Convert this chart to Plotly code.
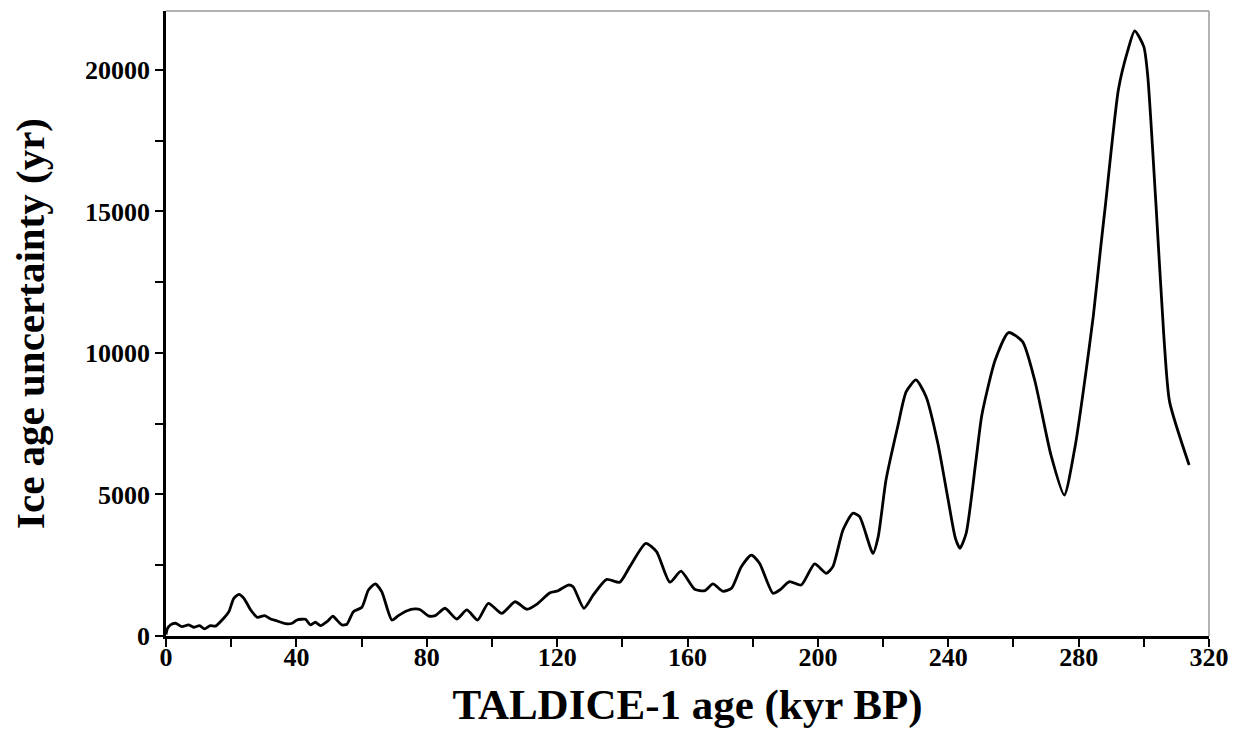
import plotly.graph_objects as go

# TALDICE-1 ice age uncertainty versus age
age_kyr = [
    0.0, 0.4, 1.5, 2.9, 4.9, 6.9, 8.5, 10.3, 11.8, 13.6, 15.2, 17.7, 19.3, 20.8,
    22.4, 23.9, 26.0, 28.0, 30.3, 32.1, 34.1, 36.7, 38.7, 40.2, 42.8, 44.3,
    45.8, 47.4, 49.4, 51.2, 52.4, 54.0, 55.5, 57.5, 60.1, 62.1, 64.2, 66.2,
    69.3, 71.3, 73.8, 76.4, 78.0, 80.5, 82.6, 85.6, 89.2, 92.3, 95.6, 98.9,
    103.0, 107.1, 110.7, 113.7, 117.8, 120.3, 123.4, 124.9, 128.2, 131.1,
    135.2, 139.2, 142.3, 147.2, 150.5, 154.6, 158.0, 162.2, 165.3, 167.8,
    170.9, 173.5, 176.5, 179.6, 182.1, 186.2, 188.3, 191.3, 194.9, 199.0,
    202.6, 204.6, 207.7, 210.7, 212.8, 216.9, 218.5, 220.9, 224.5, 227.1,
    230.1, 233.2, 236.8, 239.8, 242.2, 243.6, 245.5, 248.5, 250.3, 254.4,
    258.5, 262.8, 266.6, 271.5, 275.6, 279.0, 281.8, 284.5, 286.8, 288.2,
    292.2, 295.0, 297.2, 300.0, 301.2, 303.7, 306.2, 307.9, 313.9,
]
uncertainty_yr = [
    50, 250, 400, 450, 330, 390, 310, 365, 250, 365, 350, 625, 860, 1330,
    1470, 1330, 920, 660, 720, 600, 530, 435, 450, 565, 590, 390,
    485, 365, 505, 705, 565, 390, 415, 860, 1015, 1625, 1840, 1565,
    565, 720, 885, 955, 930, 710, 720, 980, 600, 920, 565, 1155,
    800, 1210, 945, 1120, 1530, 1600, 1800, 1740, 980, 1450,
    2000, 1900, 2450, 3275, 2980, 1900, 2290, 1650, 1600, 1840,
    1580, 1685, 2450, 2860, 2570, 1510, 1625, 1920, 1800, 2545,
    2215, 2450, 3745, 4335, 4215, 2920, 3500, 5510, 7400, 8630,
    9045, 8455, 6810, 4920, 3450, 3100, 3630, 6200, 7800, 9750,
    10720, 10400, 9000, 6400, 4980, 6750, 8950, 11300, 13760, 15200,
    19300, 20650, 21380, 20820, 19800, 15300, 10500, 8280, 6040,
]

x_ticks = [0, 40, 80, 120, 160, 200, 240, 280, 320]
y_ticks = [0, 5000, 10000, 15000, 20000]

serif = "Liberation Serif"

fig = go.Figure()
fig.add_trace(go.Scatter(
    x=age_kyr, y=uncertainty_yr, mode="lines",
    line=dict(color="black", width=2.8, shape="spline", smoothing=0.6),
    hoverinfo="skip", showlegend=False,
))

fig.update_layout(
    width=1237, height=731,
    margin=dict(l=166, r=28, t=11, b=95),
    paper_bgcolor="white", plot_bgcolor="white",
    font=dict(family=serif, color="black"),
    shapes=[
        dict(type="line", xref="paper", yref="paper", x0=0, x1=1, y0=1, y1=1,
             line=dict(color="#9a9a9a", width=1.5)),
        dict(type="line", xref="paper", yref="paper", x0=1, x1=1, y0=0, y1=1,
             line=dict(color="#9a9a9a", width=1.5)),
    ],
)

fig.update_xaxes(
    range=[0, 320], tickvals=x_ticks, ticktext=[str(v) for v in x_ticks],
    automargin=False,
    showgrid=False, zeroline=False,
    showline=True, linecolor="black", linewidth=2.5,
    ticks="outside", ticklen=8, tickwidth=2, tickcolor="black",
    ticklabelstandoff=-12,
    minor=dict(dtick=20, tick0=0, ticks="outside", ticklen=8, tickwidth=2, tickcolor="black"),
    tickfont=dict(family=serif, size=26, weight="bold", color="black"),
    title=dict(text="TALDICE-1 age (kyr BP)", standoff=18,
               font=dict(family=serif, size=43, weight="bold", color="black")),
)
fig.update_yaxes(
    range=[0, 22080], tickvals=y_ticks, ticktext=[str(v) for v in y_ticks],
    automargin=False,
    showgrid=False, zeroline=False,
    showline=True, linecolor="black", linewidth=2.5,
    ticks="outside", ticklen=8, tickwidth=2, tickcolor="black",
    minor=dict(dtick=2500, tick0=0, ticks="outside", ticklen=8, tickwidth=2, tickcolor="black"),
    tickfont=dict(family=serif, size=26, weight="bold", color="black"),
    title=dict(text="Ice age uncertainty (yr)", standoff=28,
               font=dict(family=serif, size=41, weight="bold", color="black")),
)

fig.write_html("out.html")
